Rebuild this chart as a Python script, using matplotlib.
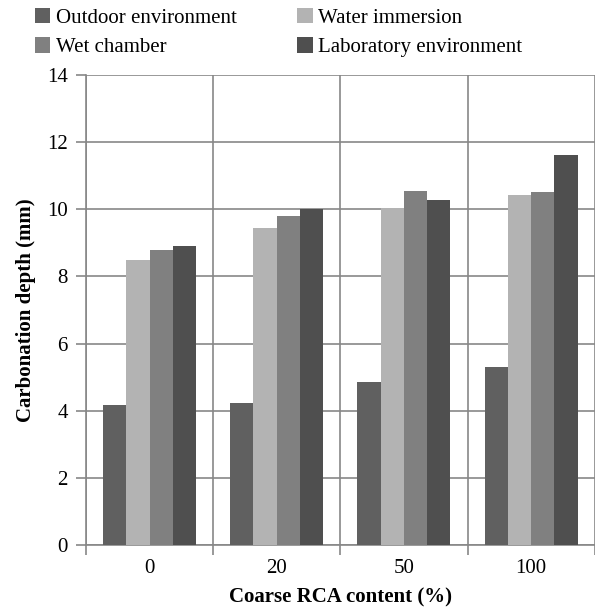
import matplotlib.pyplot as plt
import numpy as np

plt.rcParams['font.family'] = ['Liberation Serif', 'DejaVu Serif']

categories = ['0', '20', '50', '100']
series_names = ['Outdoor environment', 'Water immersion', 'Wet chamber', 'Laboratory environment']
outdoor = [4.17, 4.22, 4.86, 5.3]
water = [8.5, 9.43, 10.05, 10.43]
wet = [8.8, 9.8, 10.55, 10.5]
lab = [8.9, 10.02, 10.27, 11.62]
colors = ['#606060', '#b3b3b3', '#808080', '#4f4f4f']

fig = plt.figure(figsize=(5.95, 6.13), dpi=100)
ax = fig.add_axes([0.1445, 0.111, 0.855, 0.7667])

x = np.arange(len(categories))
w = 0.183
bars = []
for i, (vals, c) in enumerate(zip([outdoor, water, wet, lab], colors)):
    b = ax.bar(x + (i - 1.5) * w, vals, w, color=c, label=series_names[i], zorder=3)
    bars.append(b)

ax.set_xlim(-0.5, len(categories) - 0.5)
ax.set_ylim(0, 14)
ax.set_yticks(np.arange(0, 15, 2))
ax.set_xticks(x)
ax.set_xticklabels(categories)
ax.set_xticks(np.arange(-0.5, len(categories)), minor=True)

gc = '#878787'
ax.grid(axis='y', color=gc, linewidth=1.2, zorder=0)
ax.grid(axis='x', which='minor', color=gc, linewidth=1.2, zorder=0)
ax.tick_params(axis='x', which='major', length=0, labelsize=15, pad=10)
ax.tick_params(axis='x', which='minor', length=7, color=gc, width=1.2)
ax.tick_params(axis='y', length=7, color=gc, width=1.2, labelsize=15, pad=6)
for s in ['top', 'right']:
    ax.spines[s].set_visible(False)
for s in ['left', 'bottom']:
    ax.spines[s].set_color(gc)
    ax.spines[s].set_linewidth(1.2)

ax.set_ylabel('Carbonation depth (mm)', fontsize=15, fontweight='bold', labelpad=8)
ax.set_xlabel('Coarse RCA content (%)', fontsize=15, fontweight='bold', labelpad=7)

# row-major order like the original legend
order = [0, 2, 1, 3]
fig.legend([bars[i] for i in order], [series_names[i] for i in order],
           loc='upper left', bbox_to_anchor=(0.055, 0.99), ncol=2, frameon=False,
           fontsize=15, handlelength=0.75, handleheight=0.75, handletextpad=0.25,
           columnspacing=2.9, labelspacing=0.45, borderaxespad=0.0, borderpad=0.1)

fig.savefig('out.png', dpi=100)
